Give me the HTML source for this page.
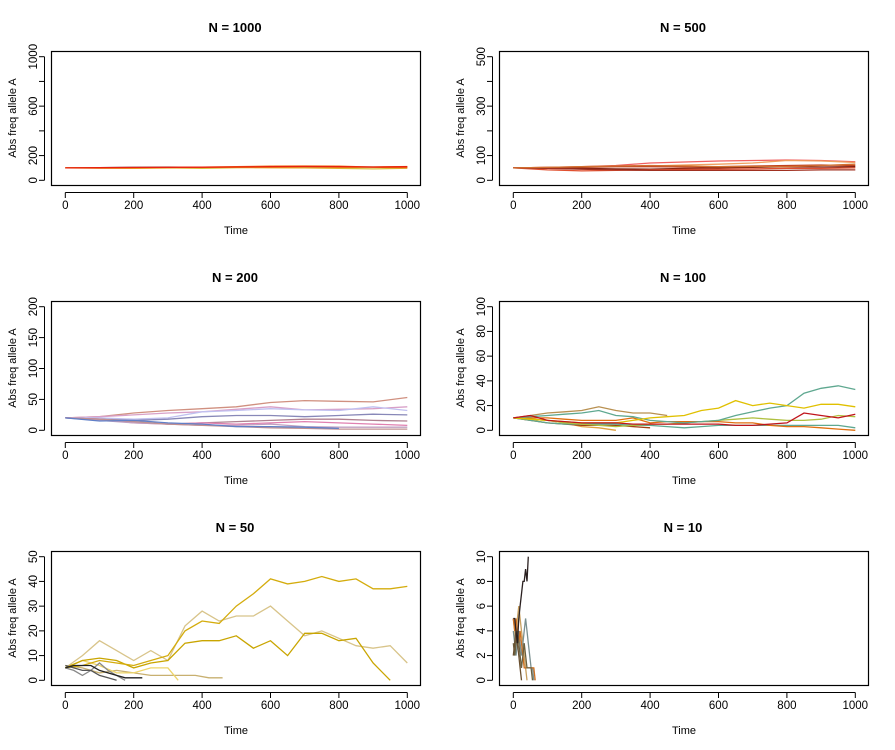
<!DOCTYPE html>
<html><head><meta charset="utf-8"><style>
body{margin:0;background:#fff}
svg{display:block;font-family:"Liberation Sans",Arial,sans-serif}
</style></head><body>
<svg id="chart" width="895" height="750" viewBox="0 0 895 750"></svg>
<script>
// ---- data (time, value pairs per series) ----
const p1000_titles = "N = 1000";
const p1000_yTicks = [0,200,400,600,800,1000];
const p1000_yLabels = ["0","200","","600","","1000"];
const p1000_t = [0,100,200,300,400,500,600,700,800,900,1000];
const p1000_s1 = [100,102,104,105,106,108,110,112,110,108,110];
const p1000_s2 = [100,100,102,104,106,110,114,116,114,106,102];
const p1000_s3 = [100,100,98,100,96,102,104,100,96,92,98];
const p1000_s4 = [100,102,106,108,104,106,108,104,106,108,104];
const p1000_s5 = [100,98,98,100,104,104,102,100,102,108,112];

const p500_yTicks = [0,100,200,300,400,500];
const p500_yLabels = ["0","100","","300","","500"];
const p500_t = [0,100,200,300,400,500,600,700,800,900,1000];
const p500_s1 = [50,52,55,60,70,74,78,80,82,80,75];
const p500_s2 = [50,50,55,56,58,62,65,70,80,78,72];
const p500_s3 = [50,52,52,55,55,54,55,58,60,62,60];
const p500_s4 = [50,48,48,46,45,48,50,52,55,54,55];
const p500_s5 = [50,42,38,40,42,44,45,46,48,48,50];
const p500_s6 = [50,48,45,42,40,40,40,40,40,42,42];
const p500_s7 = [50,52,55,58,60,58,55,56,55,60,65];

const p200_yTicks = [0,50,100,150,200];
const p200_t = [0,100,200,300,400,500,600,700,800,900,1000];
const p200_s1 = [20,22,28,32,35,38,45,48,47,46,53];
const p200_s2 = [20,22,25,28,30,34,38,33,34,35,38];
const p200_s3 = [20,20,18,20,30,32,35,33,32,38,32];
const p200_s4 = [20,18,16,18,22,24,24,22,24,26,25];
const p200_s5 = [20,15,16,12,10,6,6,5,3,null,null];
const p200_s6 = [20,18,14,10,12,14,16,18,18,16,15];
const p200_s7 = [20,18,12,10,12,10,12,14,12,10,8];
const p200_s8 = [20,16,12,10,8,8,10,6,5,5,5];
const p200_s9 = [20,18,14,10,8,6,4,3,2,2,2];

const p100_yTicks = [0,20,40,60,80,100];
const p100_t = [0,50,100,150,200,250,300,350,400,450,500,550,600,650,700,750,800,850,900,950,1000];
const p100_s1 = [10,11,12,13,14,16,12,11,8,7,6,7,8,12,15,18,20,30,34,36,33];
const p100_s2 = [10,9,8,7,6,6,6,8,10,11,12,16,18,24,20,22,20,18,21,21,19];
const p100_s3 = [10,12,8,7,6,6,6,5,5,5,5,5,5,4,4,5,6,14,12,10,13];
const p100_s4 = [10,12,14,15,16,19,16,14,14,12,null,null,null,null,null,null,null,null,null,null,null];
const p100_s5 = [10,10,10,9,8,8,8,10,6,7,7,7,7,6,6,4,3,3,2,1,0];
const p100_s6 = [10,9,8,6,5,4,3,4,5,5,6,7,8,9,10,9,8,8,9,12,11];
const p100_s7 = [10,8,6,5,5,5,5,4,4,3,2,3,4,4,4,4,4,4,4,4,2];
const p100_s8 = [10,9,8,6,3,2,0,null,null,null,null,null,null,null,null,null,null,null,null,null,null];
const p100_s9 = [10,8,6,5,4,4,4,3,2,null,null,null,null,null,null,null,null,null,null,null,null];

const p50_yTicks = [0,10,20,30,40,50];
const p50_t = [0,50,100,150,200,250,300,350,400,450,500,550,600,650,700,750,800,850,900,950,1000];
const p50_s1 = [5,6,8,7,6,8,10,20,24,23,30,35,41,39,40,42,40,41,37,37,38];
const p50_s2 = [5,10,16,12,8,12,8,22,28,24,26,26,30,24,18,20,17,14,13,14,7];
const p50_s3 = [5,8,9,8,5,7,8,15,16,16,18,13,16,10,19,19,16,17,7,0,null];
const p50_t2 = [0,25,50,75,100,125,150,175,200,225];
const p50_s4 = [5,6,6,6,4,3,2,1,1,1];
const p50_s5 = [5,4,2,4,7,4,2,0,null,null];
const p50_s6 = [6,5,4,4,2,1,0,null,null,null];
const p50_t3 = [0,50,100,150,200,250,300,330,380,420,460];
const p50_s7 = [5,8,6,3,3,5,5,0,null,null,null];
const p50_s8 = [6,5,3,4,3,2,2,2,2,1,1];

const p10_yTicks = [0,2,4,6,8,10];
const p10_t = [0,4,8,12,16,20,24,28,32,36,40,44,48,52,56,60,64,68];
const p10_s1 = [5,5,4,3,5,6,7,8,8,9,8,10,null,null,null,null,null,null];
const p10_s2 = [5,4,3,5,6,5,4,3,2,1,0,null,null,null,null,null,null,null];
const p10_s3 = [4,3,2,3,4,3,2,3,4,5,4,3,2,1,1,0,null,null];
const p10_s4 = [3,2,3,4,3,2,1,2,3,2,1,1,1,1,0,null,null,null];
const p10_s5 = [2,3,4,3,2,1,0,null,null,null,null,null,null,null,null,null,null,null];
const p10_s6 = [5,4,5,4,3,4,3,2,1,1,1,1,1,1,1,1,0,null];

const xTicks = [0,200,400,600,800,1000];

// ---- drawing ----
const svg = document.getElementById('chart');
const NS = 'http://www.w3.org/2000/svg';
function mk(tag, attrs, parent){const e=document.createElementNS(NS,tag);for(const k in attrs)e.setAttribute(k,attrs[k]);(parent||svg).appendChild(e);return e;}

function panel(ox, oy, title, ymax, yTicks, yLabels, seriesList, key){
  const g = mk('g',{});
  
  
  const xs = v => ox + 65.3 + v/1000*342;
  const ys = v => oy + 180.3 - v/ymax*123.6;
  const t = mk('text',{x:ox+235,y:oy+32,'text-anchor':'middle','font-size':'13','font-weight':'bold'},g);
  t.textContent = title;
  
  
  seriesList.forEach((s, i) => {
    let d = '';
    let started = false;
    for (let j = 0; j < s.t.length; j++) {
      const v = s.v[j];
      if (v === null || v === undefined) break;
      const x = xs(s.t[j]), y = ys(v);
      d += (started ? 'L' : 'M') + x.toFixed(1) + ' ' + y.toFixed(1);
      started = true;
    }
    const p = mk('path',{d:d,fill:'none',stroke:s.c,'stroke-width':'1.3','stroke-linejoin':'miter'},g);
    
    
  });
  const box = mk('rect',{x:ox+51.5,y:oy+51.5,width:369,height:134,fill:'none',stroke:'#000','stroke-width':'1.2'},g);
  
  
  mk('line',{x1:xs(0),x2:xs(1000),y1:oy+192.5,y2:oy+192.5,stroke:'#000'},g);
  xTicks.forEach(v => {
    mk('line',{x1:xs(v),x2:xs(v),y1:oy+192.5,y2:oy+198,stroke:'#000'},g);
    const l = mk('text',{x:xs(v),y:oy+209,'text-anchor':'middle','font-size':'11.5'},g);
    l.textContent = v;
    
    
  });
  const xt = mk('text',{x:ox+236,y:oy+234,'text-anchor':'middle','font-size':'11'},g);
  xt.textContent = 'Time';
  
  
  mk('line',{x1:ox+44.5,x2:ox+44.5,y1:ys(0),y2:ys(ymax),stroke:'#000'},g);
  yTicks.forEach((v, i) => {
    mk('line',{x1:ox+39,x2:ox+44.5,y1:ys(v),y2:ys(v),stroke:'#000'},g);
    const lab = yLabels ? yLabels[i] : String(v);
    if (lab) {
      const l = mk('text',{x:0,y:0,'text-anchor':'middle','font-size':'11.5',transform:'translate('+(ox+37)+','+ys(v)+') rotate(-90)'},g);
      l.textContent = lab;
      
      
    }
  });
  const yt = mk('text',{x:0,y:0,'text-anchor':'middle','font-size':'11',transform:'translate('+(ox+16)+','+(oy+118)+') rotate(-90)'},g);
  yt.textContent = 'Abs freq allele A';
  
  
}

panel(0,0,p1000_titles,1000,p1000_yTicks,p1000_yLabels,[
  {t:p1000_t,v:p1000_s4,c:'#6a9ab0'},{t:p1000_t,v:p1000_s3,c:'#d8c040'},{t:p1000_t,v:p1000_s5,c:'#e8a020'},
  {t:p1000_t,v:p1000_s2,c:'#f07010'},{t:p1000_t,v:p1000_s1,c:'#e82010'}],'n1000');
panel(448,0,"N = 500",500,p500_yTicks,p500_yLabels,[
  {t:p500_t,v:p500_s1,c:'#f06060'},{t:p500_t,v:p500_s2,c:'#f0a060'},{t:p500_t,v:p500_s3,c:'#c04020'},
  {t:p500_t,v:p500_s4,c:'#802010'},{t:p500_t,v:p500_s5,c:'#e05030'},{t:p500_t,v:p500_s6,c:'#a03020'},{t:p500_t,v:p500_s7,c:'#d07030'}],'n500');
panel(0,250,"N = 200",200,p200_yTicks,null,[
  {t:p200_t,v:p200_s1,c:'#d09080'},{t:p200_t,v:p200_s2,c:'#d8a0c8'},{t:p200_t,v:p200_s3,c:'#c0c0f0'},
  {t:p200_t,v:p200_s4,c:'#8888b8'},{t:p200_t,v:p200_s6,c:'#b08090'},{t:p200_t,v:p200_s7,c:'#e080b0'},
  {t:p200_t,v:p200_s8,c:'#c0a0c0'},{t:p200_t,v:p200_s9,c:'#c09090'},{t:p200_t,v:p200_s5,c:'#6080c8'}],'n200');
panel(448,250,"N = 100",100,p100_yTicks,null,[
  {t:p100_t,v:p100_s4,c:'#b89050'},{t:p100_t,v:p100_s8,c:'#e0a040'},{t:p100_t,v:p100_s9,c:'#a04010'},
  {t:p100_t,v:p100_s7,c:'#5fa890'},{t:p100_t,v:p100_s6,c:'#b0c040'},{t:p100_t,v:p100_s5,c:'#e07010'},
  {t:p100_t,v:p100_s1,c:'#5fa890'},{t:p100_t,v:p100_s2,c:'#e0c000'},{t:p100_t,v:p100_s3,c:'#c0141c'}],'n100');
panel(0,500,"N = 50",50,p50_yTicks,null,[
  {t:p50_t3,v:p50_s8,c:'#c8b070'},{t:p50_t3,v:p50_s7,c:'#eed56a'},{t:p50_t,v:p50_s2,c:'#d8c48a'},
  {t:p50_t,v:p50_s3,c:'#c9a500'},{t:p50_t,v:p50_s1,c:'#d4ac0d'},
  {t:p50_t2,v:p50_s5,c:'#888888'},{t:p50_t2,v:p50_s6,c:'#555555'},{t:p50_t2,v:p50_s4,c:'#222222'}],'n50');
panel(448,500,"N = 10",10,p10_yTicks,null,[
  {t:p10_t,v:p10_s2,c:'#c8a060'},{t:p10_t,v:p10_s3,c:'#7a9090'},{t:p10_t,v:p10_s6,c:'#d07020'},
  {t:p10_t,v:p10_s4,c:'#6a6040'},{t:p10_t,v:p10_s5,c:'#6a5030'},{t:p10_t,v:p10_s1,c:'#2a2020'}],'n10');
</script>
</body></html>
